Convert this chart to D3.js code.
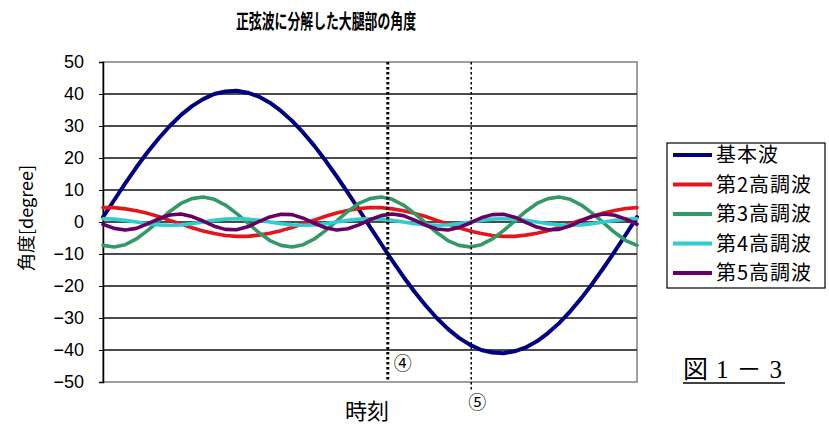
<!DOCTYPE html>
<html><head><meta charset="utf-8">
<script src="https://cdn.jsdelivr.net/npm/d3@7/dist/d3.min.js"></script>
<style>body{margin:0;background:#fff;} svg{display:block;}</style>
</head><body><svg id="c" width="829" height="428"></svg>
<script>
// ---- data ----
const samples = [0,1,2,3,4,5,6,7,8,9,10,11,12,13,14,15,16,17,18,19,20,21,22,23,24,25,26,27,28,29,30,31,32,33,34,35,36,37,38,39,40,41,42,43,44,45,46,47,48];
const fundamental = [1.5,6.8,12.1,17.1,21.8,26.1,30.0,33.4,36.2,38.4,40.0,40.8,41.0,40.4,39.2,37.3,34.7,31.6,27.9,23.8,19.2,14.3,9.2,3.9,-1.5,-6.8,-12.1,-17.1,-21.8,-26.1,-30.0,-33.4,-36.2,-38.4,-40.0,-40.8,-41.0,-40.4,-39.2,-37.3,-34.7,-31.6,-27.9,-23.8,-19.2,-14.3,-9.2,-3.9,1.5];
const harmonic2 = [4.5,4.5,4.1,3.5,2.7,1.7,0.5,-0.6,-1.8,-2.8,-3.6,-4.2,-4.5,-4.5,-4.1,-3.5,-2.7,-1.7,-0.5,0.6,1.8,2.8,3.6,4.2,4.5,4.5,4.1,3.5,2.7,1.7,0.5,-0.6,-1.8,-2.8,-3.6,-4.2,-4.5,-4.5,-4.1,-3.5,-2.7,-1.7,-0.5,0.6,1.8,2.8,3.6,4.2,4.5];
const harmonic3 = [-7.3,-7.8,-7.1,-5.3,-2.7,0.3,3.3,5.8,7.3,7.8,7.1,5.3,2.7,-0.3,-3.3,-5.8,-7.3,-7.8,-7.1,-5.3,-2.7,0.3,3.3,5.8,7.3,7.8,7.1,5.3,2.7,-0.3,-3.3,-5.8,-7.3,-7.8,-7.1,-5.3,-2.7,0.3,3.3,5.8,7.3,7.8,7.1,5.3,2.7,-0.3,-3.3,-5.8,-7.3];
const harmonic4 = [1.0,0.9,0.5,0.0,-0.5,-0.9,-1.0,-0.9,-0.5,0.0,0.5,0.9,1.0,0.9,0.5,0.0,-0.5,-0.9,-1.0,-0.9,-0.5,0.0,0.5,0.9,1.0,0.9,0.5,0.0,-0.5,-0.9,-1.0,-0.9,-0.5,0.0,0.5,0.9,1.0,0.9,0.5,0.0,-0.5,-0.9,-1.0,-0.9,-0.5,0.0,0.5,0.9,1.0];
const harmonic5 = [-0.7,-2.0,-2.5,-2.0,-0.6,1.0,2.2,2.5,1.7,0.3,-1.3,-2.3,-2.4,-1.5,0.1,1.6,2.4,2.3,1.2,-0.4,-1.8,-2.5,-2.1,-0.9,0.7,2.0,2.5,2.0,0.6,-1.0,-2.2,-2.5,-1.7,-0.3,1.3,2.3,2.4,1.5,-0.1,-1.6,-2.4,-2.3,-1.2,0.4,1.8,2.5,2.1,0.9,-0.7];
const seriesNames = ["基本波","第2高調波","第3高調波","第4高調波","第5高調波"];
const seriesValues = [fundamental, harmonic2, harmonic3, harmonic4, harmonic5];
const seriesColors = ["#000080","#e3161e","#339966","#33cccc","#660066"];
const yTicks = [-50,-40,-30,-20,-10,0,10,20,30,40,50];
const markerTimes = [25.6, 33.1];
const markerLabels = ["④","⑤"];
const titleText = "正弦波に分解した大腿部の角度";
const xTitle = "時刻";
const yTitle = "角度[degree]";
const figLabel = "図1－3";

// ---- layout ----
const svg = d3.select("#c");
const L = 103, R = 637, T = 62, B = 382;
const x = d3.scaleLinear().domain([0, 48]).range([L, R]);
const y = d3.scaleLinear().domain([-50, 50]).range([B, T]);
const jp = "'Noto Sans CJK JP', sans-serif";

svg.append("rect").attr("width",829).attr("height",428).attr("fill","#fff");

// title
svg.append("text").attr("x",326).attr("y",29).attr("text-anchor","middle")
  .attr("font-family",jp).attr("font-weight","bold").attr("font-size",20)
  .attr("textLength",180).attr("lengthAdjust","spacingAndGlyphs")
  .text(titleText);

// plot area
svg.append("rect").attr("x",L).attr("y",T).attr("width",R-L).attr("height",B-T)
  .attr("fill","#fff").attr("stroke","#808080").attr("stroke-width",1.5);

// gridlines
svg.append("g").selectAll("line").data(yTicks.filter(d=>d>-50 && d<50)).join("line")
  .attr("x1",L).attr("x2",R).attr("y1",d=>y(d)).attr("y2",d=>y(d))
  .attr("stroke","#111").attr("stroke-width",1.4);

// y axis
const yAxis = svg.append("g").attr("transform",`translate(${L},0)`)
  .call(d3.axisLeft(y).tickValues(yTicks).tickSize(4).tickPadding(15));
yAxis.select(".domain").attr("stroke","#000").attr("stroke-width",1.5);
yAxis.selectAll(".tick line").attr("stroke","#000");
yAxis.selectAll("text").attr("font-family","'Liberation Sans', Arial, sans-serif")
  .attr("font-size",18).attr("fill","#000");

// series lines
const line = d3.line().x((d,i)=>x(samples[i])).y(d=>y(d));
svg.append("g").selectAll("path").data(seriesValues).join("path")
  .attr("d", d=>line(d)).attr("fill","none")
  .attr("stroke",(d,i)=>seriesColors[i])
  .attr("stroke-width",(d,i)=>i===0?4:3.6)
  .attr("stroke-linejoin","round").attr("stroke-linecap","round");

// marker lines
svg.append("line").attr("x1",x(markerTimes[0])).attr("x2",x(markerTimes[0]))
  .attr("y1",T).attr("y2",B).attr("stroke","#000").attr("stroke-width",3)
  .attr("stroke-dasharray","2.5,2.5");
svg.append("line").attr("x1",x(markerTimes[1])).attr("x2",x(markerTimes[1]))
  .attr("y1",T).attr("y2",B+8).attr("stroke","#000").attr("stroke-width",1.5)
  .attr("stroke-dasharray","2.5,2.5");
svg.append("text").attr("x",x(markerTimes[0])+15).attr("y",370).attr("text-anchor","middle")
  .attr("font-family",jp).attr("font-size",18).text(markerLabels[0]);
svg.append("text").attr("x",x(markerTimes[1])+6).attr("y",409).attr("text-anchor","middle")
  .attr("font-family",jp).attr("font-size",18).text(markerLabels[1]);

// axis titles
svg.append("text").attr("x",367).attr("y",419).attr("text-anchor","middle")
  .attr("font-family",jp).attr("font-size",22).text(xTitle);
svg.append("text").attr("transform","translate(33,218) rotate(-90)").attr("text-anchor","middle")
  .attr("font-family",jp).attr("font-size",18).text(yTitle);

// legend
const lg = svg.append("g");
lg.append("rect").attr("x",667).attr("y",143).attr("width",158).attr("height",145)
  .attr("fill","#fff").attr("stroke","#000").attr("stroke-width",1.2);
const items = lg.selectAll("g.item").data(seriesNames).join("g").attr("class","item")
  .attr("transform",(d,i)=>`translate(0,${155+i*29.5})`);
items.append("line").attr("x1",673).attr("x2",712).attr("y1",0).attr("y2",0)
  .attr("stroke",(d,i)=>seriesColors[i]).attr("stroke-width",4);
items.append("text").attr("x",716).attr("y",7).attr("font-family",jp).attr("font-size",20)
  .attr("letter-spacing",1).text(d=>d);

// figure label
svg.append("text").attr("x",683).attr("y",378).attr("font-family","'Liberation Serif', 'Noto Sans CJK JP', serif")
  .attr("font-size",25).attr("textLength",99).text(figLabel);
svg.append("line").attr("x1",683).attr("x2",785).attr("y1",383).attr("y2",383)
  .attr("stroke","#000").attr("stroke-width",1.5);
</script></body></html>
